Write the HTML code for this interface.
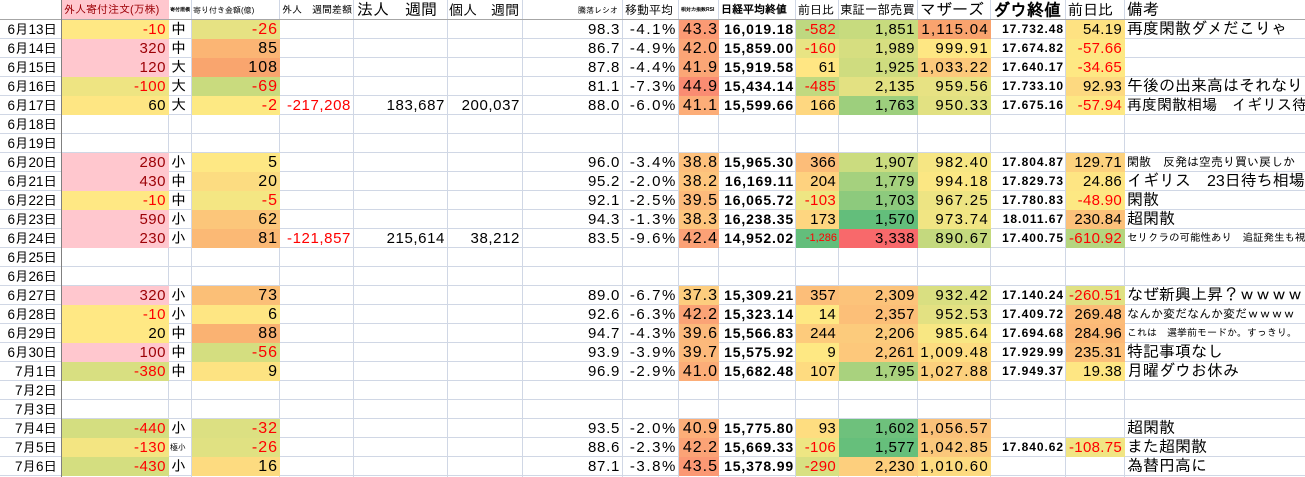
<!DOCTYPE html>
<html><head><meta charset="utf-8">
<style>
*{margin:0;padding:0;box-sizing:border-box}
body{width:1305px;height:477px;overflow:hidden;background:#fff;font-family:"Liberation Sans","IPAGothic","Noto Sans CJK JP",sans-serif;}
#s{position:relative;width:1305px;height:477px;overflow:hidden;background:#fff}
.h{position:absolute;left:0;width:1305px;height:1px;background:#d0d7e5}
.v{position:absolute;top:0;width:1px;height:477px;background:#d0d7e5}
.r{position:absolute;left:0;width:1305px;height:19px}
.c{position:absolute;top:0;height:19px;line-height:19px;white-space:nowrap;overflow:hidden;font-size:15px;color:#000;text-align:right;padding-right:3px}
.A{left:0;width:61px;font-size:13.5px;padding-right:4px}
.B{left:62px;width:107px;letter-spacing:.5px}
.C{left:169px;width:23px;text-align:left;padding-left:2px;padding-right:0}
.D{left:192px;width:88px;font-size:16px;letter-spacing:1px;padding-right:2px}
.E{left:280px;width:74px;letter-spacing:.6px}
.F{left:354px;width:94px;letter-spacing:.6px}
.G{left:448px;width:75px;letter-spacing:.6px}
.H{left:523px;width:100px;letter-spacing:.7px}
.I{left:623px;width:56px;letter-spacing:1.6px;padding-right:2px}
.J{left:679px;width:40px;font-size:16px;letter-spacing:1px;padding-right:1px}
.K{left:719px;width:77px;font-size:14px;font-weight:bold;letter-spacing:.85px;padding-right:2px}
.L{left:796px;width:43px;letter-spacing:.3px}
.M{left:839px;width:79px;letter-spacing:.5px}
.N{left:918px;width:73px;letter-spacing:1.3px;padding-right:2px}
.O{left:991px;width:75px;font-size:12px;font-weight:bold;letter-spacing:.95px;padding-right:2px}
.P{left:1066px;width:59px;letter-spacing:.3px}
.Q{left:1125px;width:180px;text-align:left;padding-left:2px;padding-right:0;font-size:16px}
.hd{letter-spacing:0;text-align:left;padding-left:2px;padding-right:0;line-height:21px;font-weight:normal}
.n{color:#ff0000}
.p{background:#ffc7ce;color:#9c0006}
</style></head><body><div id="s">

<!-- gridlines -->
<div class="h" style="top:38px"></div><div class="h" style="top:57px"></div><div class="h" style="top:76px"></div><div class="h" style="top:95px"></div><div class="h" style="top:114px"></div><div class="h" style="top:133px"></div><div class="h" style="top:152px"></div><div class="h" style="top:171px"></div><div class="h" style="top:190px"></div><div class="h" style="top:209px"></div><div class="h" style="top:228px"></div><div class="h" style="top:247px"></div><div class="h" style="top:266px"></div><div class="h" style="top:285px"></div><div class="h" style="top:304px"></div><div class="h" style="top:323px"></div><div class="h" style="top:342px"></div><div class="h" style="top:361px"></div><div class="h" style="top:380px"></div><div class="h" style="top:399px"></div><div class="h" style="top:418px"></div><div class="h" style="top:437px"></div><div class="h" style="top:456px"></div><div class="h" style="top:475px"></div>
<div class="v" style="left:168px"></div><div class="v" style="left:191px"></div><div class="v" style="left:279px"></div><div class="v" style="left:353px"></div><div class="v" style="left:447px"></div><div class="v" style="left:522px"></div><div class="v" style="left:622px"></div><div class="v" style="left:678px"></div><div class="v" style="left:718px"></div><div class="v" style="left:795px"></div><div class="v" style="left:838px"></div><div class="v" style="left:917px"></div><div class="v" style="left:990px"></div><div class="v" style="left:1065px"></div><div class="v" style="left:1124px"></div>

<!-- header -->
<div class="r" style="top:0">
<div class="c B hd" style="background:#ffc7ce;color:#9c0006;font-size:11px">外人寄付注文(万株)</div>
<div class="c C hd" style="font-size:5px;font-weight:bold;padding-left:1px">寄付規模</div>
<div class="c D hd" style="font-size:8px;padding-left:1px">寄り付き金額(億)</div>
<div class="c E hd" style="font-size:10px">外人　週間差額</div>
<div class="c F hd" style="font-size:16px;padding-left:3px">法人　週間</div>
<div class="c G hd" style="font-size:14px;padding-left:1px">個人　週間</div>
<div class="c H hd" style="font-size:8px;text-align:right;padding-right:5px">騰落レシオ</div>
<div class="c I hd" style="font-size:12px">移動平均</div>
<div class="c J hd" style="font-size:5px;font-weight:bold">相対力指数RSI</div>
<div class="c K hd" style="font-size:11px;font-weight:bold">日経平均終値</div>
<div class="c L hd" style="font-size:12px">前日比</div>
<div class="c M hd" style="font-size:12.5px;padding-left:1px">東証一部売買</div>
<div class="c N hd" style="font-size:16px">マザーズ</div>
<div class="c O hd" style="font-size:17px;font-weight:bold">ダウ終値</div>
<div class="c P hd" style="font-size:15px">前日比</div>
<div class="c Q hd" style="font-size:16px">備考</div>
</div>

<div class="r" style="top:20px">
<div class="c A">6月13日</div><div class="c B n" style="background:#ffe884">-10</div><div class="c C">中</div><div class="c D n" style="background:#e6e283">-26</div>
<div class="c H">98.3</div><div class="c I">-4.1%</div><div class="c J" style="background:#fb9a74">43.3</div><div class="c K">16,019.18</div>
<div class="c L n" style="background:#bed880">-582</div><div class="c M" style="background:#c7db7e">1,851</div><div class="c N" style="background:#f9a36e">1,115.04</div>
<div class="c O">17.732.48</div><div class="c P" style="background:#fee282">54.19</div><div class="c Q">再度閑散ダメだこりゃ</div>
</div>

<div class="r" style="top:39px">
<div class="c A">6月14日</div><div class="c B p">320</div><div class="c C">中</div><div class="c D" style="background:#fbb574">85</div>
<div class="c H">86.7</div><div class="c I">-4.9%</div><div class="c J" style="background:#fba576">42.0</div><div class="c K">15,859.00</div>
<div class="c L n" style="background:#e8e483">-160</div><div class="c M" style="background:#d6de80">1,989</div><div class="c N" style="background:#fee783">999.91</div>
<div class="c O">17.674.82</div><div class="c P n" style="background:#fde883">-57.66</div>
</div>

<div class="r" style="top:58px">
<div class="c A">6月15日</div><div class="c B p">120</div><div class="c C">大</div><div class="c D" style="background:#f9a56e">108</div>
<div class="c H">87.8</div><div class="c I">-4.4%</div><div class="c J" style="background:#fba676">41.9</div><div class="c K">15,919.58</div>
<div class="c L" style="background:#ffe683">61</div><div class="c M" style="background:#cfdc7f">1,925</div><div class="c N" style="background:#fcc97b">1,033.22</div>
<div class="c O">17.640.17</div><div class="c P n" style="background:#fee883">-34.65</div>
</div>

<div class="r" style="top:77px">
<div class="c A">6月16日</div><div class="c B n" style="background:#eee482">-100</div><div class="c C">大</div><div class="c D n" style="background:#c9db7e">-69</div>
<div class="c H">81.1</div><div class="c I">-7.3%</div><div class="c J" style="background:#fa8c72">44.9</div><div class="c K">15,434.14</div>
<div class="c L n" style="background:#c1d980">-485</div><div class="c M" style="background:#e3e182">2,135</div><div class="c N" style="background:#e7e283">959.56</div>
<div class="c O">17.733.10</div><div class="c P" style="background:#fdd980">92.93</div><div class="c Q">午後の出来高はそれなり</div>
</div>

<div class="r" style="top:96px">
<div class="c A">6月17日</div><div class="c B" style="background:#fee683">60</div><div class="c C">大</div><div class="c D n" style="background:#fde983">-2</div>
<div class="c E n">-217,208</div><div class="c F">183,687</div><div class="c G">200,037</div>
<div class="c H">88.0</div><div class="c I">-6.0%</div><div class="c J" style="background:#fcad78">41.1</div><div class="c K">15,599.66</div>
<div class="c L" style="background:#fed780">166</div><div class="c M" style="background:#9dcf7d">1,763</div><div class="c N" style="background:#e2e182">950.33</div>
<div class="c O">17.675.16</div><div class="c P n" style="background:#fde883">-57.94</div><div class="c Q" style="font-size:15px">再度閑散相場　イギリス待ち</div>
</div>

<div class="r" style="top:115px"><div class="c A">6月18日</div></div>
<div class="r" style="top:134px"><div class="c A">6月19日</div></div>

<div class="r" style="top:153px">
<div class="c A">6月20日</div><div class="c B p">280</div><div class="c C">小</div><div class="c D" style="background:#fee884">5</div>
<div class="c H">96.0</div><div class="c I">-3.4%</div><div class="c J" style="background:#fdc07c">38.8</div><div class="c K">15,965.30</div>
<div class="c L" style="background:#fcbd79">366</div><div class="c M" style="background:#cbdc7f">1,907</div><div class="c N" style="background:#f6e683">982.40</div>
<div class="c O">17.804.87</div><div class="c P" style="background:#fdd27e">129.71</div><div class="c Q" style="font-size:12px">閑散　反発は空売り買い戻しか</div>
</div>

<div class="r" style="top:172px">
<div class="c A">6月21日</div><div class="c B p">430</div><div class="c C">中</div><div class="c D" style="background:#fcdc81">20</div>
<div class="c H">95.2</div><div class="c I">-2.0%</div><div class="c J" style="background:#fdc57d">38.2</div><div class="c K">16,169.11</div>
<div class="c L" style="background:#fed27f">204</div><div class="c M" style="background:#a5d17e">1,779</div><div class="c N" style="background:#fbe783">994.18</div>
<div class="c O">17.829.73</div><div class="c P" style="background:#fee583">24.86</div><div class="c Q">イギリス　23日待ち相場</div>
</div>

<div class="r" style="top:191px">
<div class="c A">6月22日</div><div class="c B n" style="background:#ffe884">-10</div><div class="c C">中</div><div class="c D n" style="background:#f4e683">-5</div>
<div class="c H">92.1</div><div class="c I">-2.5%</div><div class="c J" style="background:#fcba7b">39.5</div><div class="c K">16,065.72</div>
<div class="c L n" style="background:#eee683">-103</div><div class="c M" style="background:#8dca7d">1,703</div><div class="c N" style="background:#ede483">967.25</div>
<div class="c O">17.780.83</div><div class="c P n" style="background:#fde883">-48.90</div><div class="c Q">閑散</div>
</div>

<div class="r" style="top:210px">
<div class="c A">6月23日</div><div class="c B p">590</div><div class="c C">小</div><div class="c D" style="background:#fcc67a">62</div>
<div class="c H">94.3</div><div class="c I">-1.3%</div><div class="c J" style="background:#fdc57d">38.3</div><div class="c K">16,238.35</div>
<div class="c L" style="background:#fed680">173</div><div class="c M" style="background:#63be7b">1,570</div><div class="c N" style="background:#f1e583">973.74</div>
<div class="c O">18.011.67</div><div class="c P" style="background:#fcc17a">230.84</div><div class="c Q">超閑散</div>
</div>

<div class="r" style="top:229px">
<div class="c A">6月24日</div><div class="c B p">230</div><div class="c C">小</div><div class="c D" style="background:#fbb975">81</div>
<div class="c E n">-121,857</div><div class="c F">215,614</div><div class="c G">38,212</div>
<div class="c H">83.5</div><div class="c I">-9.6%</div><div class="c J" style="background:#fba176">42.4</div><div class="c K">14,952.02</div>
<div class="c L n" style="background:#63be7b;font-size:11px;letter-spacing:0;padding-right:2px">-1,286</div><div class="c M" style="background:#f8696b">3,338</div><div class="c N" style="background:#c4d97e">890.67</div>
<div class="c O">17.400.75</div><div class="c P n" style="background:#b5d57f">-610.92</div><div class="c Q" style="font-size:10.5px">セリクラの可能性あり　追証発生も視野</div>
</div>

<div class="r" style="top:248px"><div class="c A">6月25日</div></div>
<div class="r" style="top:267px"><div class="c A">6月26日</div></div>

<div class="r" style="top:286px">
<div class="c A">6月27日</div><div class="c B p">320</div><div class="c C">小</div><div class="c D" style="background:#fbbf77">73</div>
<div class="c H">89.0</div><div class="c I">-6.7%</div><div class="c J" style="background:#fdcd7e">37.3</div><div class="c K">15,309.21</div>
<div class="c L" style="background:#fcbe79">357</div><div class="c M" style="background:#fcc37a">2,309</div><div class="c N" style="background:#d9df81">932.42</div>
<div class="c O">17.140.24</div><div class="c P n" style="background:#e0e183">-260.51</div><div class="c Q">なぜ新興上昇？ｗｗｗｗ</div>
</div>

<div class="r" style="top:305px">
<div class="c A">6月28日</div><div class="c B n" style="background:#ffe884">-10</div><div class="c C">小</div><div class="c D" style="background:#fee683">6</div>
<div class="c H">92.6</div><div class="c I">-6.3%</div><div class="c J" style="background:#fba376">42.2</div><div class="c K">15,323.14</div>
<div class="c L" style="background:#fee883">14</div><div class="c M" style="background:#fcbf78">2,357</div><div class="c N" style="background:#e3e182">952.53</div>
<div class="c O">17.409.72</div><div class="c P" style="background:#fcbc78">269.48</div><div class="c Q" style="font-size:12px">なんか変だなんか変だｗｗｗｗ</div>
</div>

<div class="r" style="top:324px">
<div class="c A">6月29日</div><div class="c B" style="background:#ffe884">20</div><div class="c C">中</div><div class="c D" style="background:#fab272">88</div>
<div class="c H">94.7</div><div class="c I">-4.3%</div><div class="c J" style="background:#fcb97b">39.6</div><div class="c K">15,566.83</div>
<div class="c L" style="background:#fdcb7c">244</div><div class="c M" style="background:#fccb7c">2,206</div><div class="c N" style="background:#f8e783">985.64</div>
<div class="c O">17.694.68</div><div class="c P" style="background:#fcb977">284.96</div><div class="c Q" style="font-size:10px">これは　選挙前モードか。すっきり。</div>
</div>

<div class="r" style="top:343px">
<div class="c A">6月30日</div><div class="c B p">100</div><div class="c C">中</div><div class="c D n" style="background:#d4de80">-56</div>
<div class="c H">93.9</div><div class="c I">-3.9%</div><div class="c J" style="background:#fcb97b">39.7</div><div class="c K">15,575.92</div>
<div class="c L" style="background:#fee883">9</div><div class="c M" style="background:#fdc87b">2,261</div><div class="c N" style="background:#fddc80">1,009.48</div>
<div class="c O">17.929.99</div><div class="c P" style="background:#fcc07a">235.31</div><div class="c Q">特記事項なし</div>
</div>

<div class="r" style="top:362px">
<div class="c A">7月1日</div><div class="c B n" style="background:#d8df81">-380</div><div class="c C">中</div><div class="c D" style="background:#fde382">9</div>
<div class="c H">96.9</div><div class="c I">-2.9%</div><div class="c J" style="background:#fcad78">41.0</div><div class="c K">15,682.48</div>
<div class="c L" style="background:#fedb80">107</div><div class="c M" style="background:#a9d27e">1,795</div><div class="c N" style="background:#fcd07d">1,027.88</div>
<div class="c O">17.949.37</div><div class="c P" style="background:#fee683">19.38</div><div class="c Q">月曜ダウお休み</div>
</div>

<div class="r" style="top:381px"><div class="c A">7月2日</div></div>
<div class="r" style="top:400px"><div class="c A">7月3日</div></div>

<div class="r" style="top:419px">
<div class="c A">7月4日</div><div class="c B n" style="background:#d4de80">-440</div><div class="c C">小</div><div class="c D n" style="background:#dce082">-32</div>
<div class="c H">93.5</div><div class="c I">-2.0%</div><div class="c J" style="background:#fcae78">40.9</div><div class="c K">15,775.80</div>
<div class="c L" style="background:#fedd80">93</div><div class="c M" style="background:#6ec17c">1,602</div><div class="c N" style="background:#fbc179">1,056.57</div>
<div class="c Q">超閑散</div>
</div>

<div class="r" style="top:438px">
<div class="c A">7月5日</div><div class="c B n" style="background:#f3e582">-130</div><div class="c C" style="font-size:8px;padding-left:1px">極小</div><div class="c D n" style="background:#e0e182">-26</div>
<div class="c H">88.6</div><div class="c I">-2.3%</div><div class="c J" style="background:#fba376">42.2</div><div class="c K">15,669.33</div>
<div class="c L n" style="background:#eee683">-106</div><div class="c M" style="background:#66bf7b">1,577</div><div class="c N" style="background:#fbc87b">1,042.85</div>
<div class="c O">17.840.62</div><div class="c P n" style="background:#f1e583">-108.75</div><div class="c Q">また超閑散</div>
</div>

<div class="r" style="top:457px">
<div class="c A">7月6日</div><div class="c B n" style="background:#d4de80">-430</div><div class="c C">小</div><div class="c D" style="background:#fddb80">16</div>
<div class="c H">87.1</div><div class="c I">-3.8%</div><div class="c J" style="background:#fb9874">43.5</div><div class="c K">15,378.99</div>
<div class="c L n" style="background:#d8e082">-290</div><div class="c M" style="background:#fdcf7d">2,230</div><div class="c N" style="background:#fddb80">1,010.60</div>
<div class="c Q">為替円高に</div>
</div>

<!-- frozen pane lines -->
<div style="position:absolute;left:0;top:19px;width:1305px;height:1px;background:#a6a6a6"></div>
<div style="position:absolute;left:61px;top:0;width:1px;height:477px;background:#808080"></div>

</div></body></html>
